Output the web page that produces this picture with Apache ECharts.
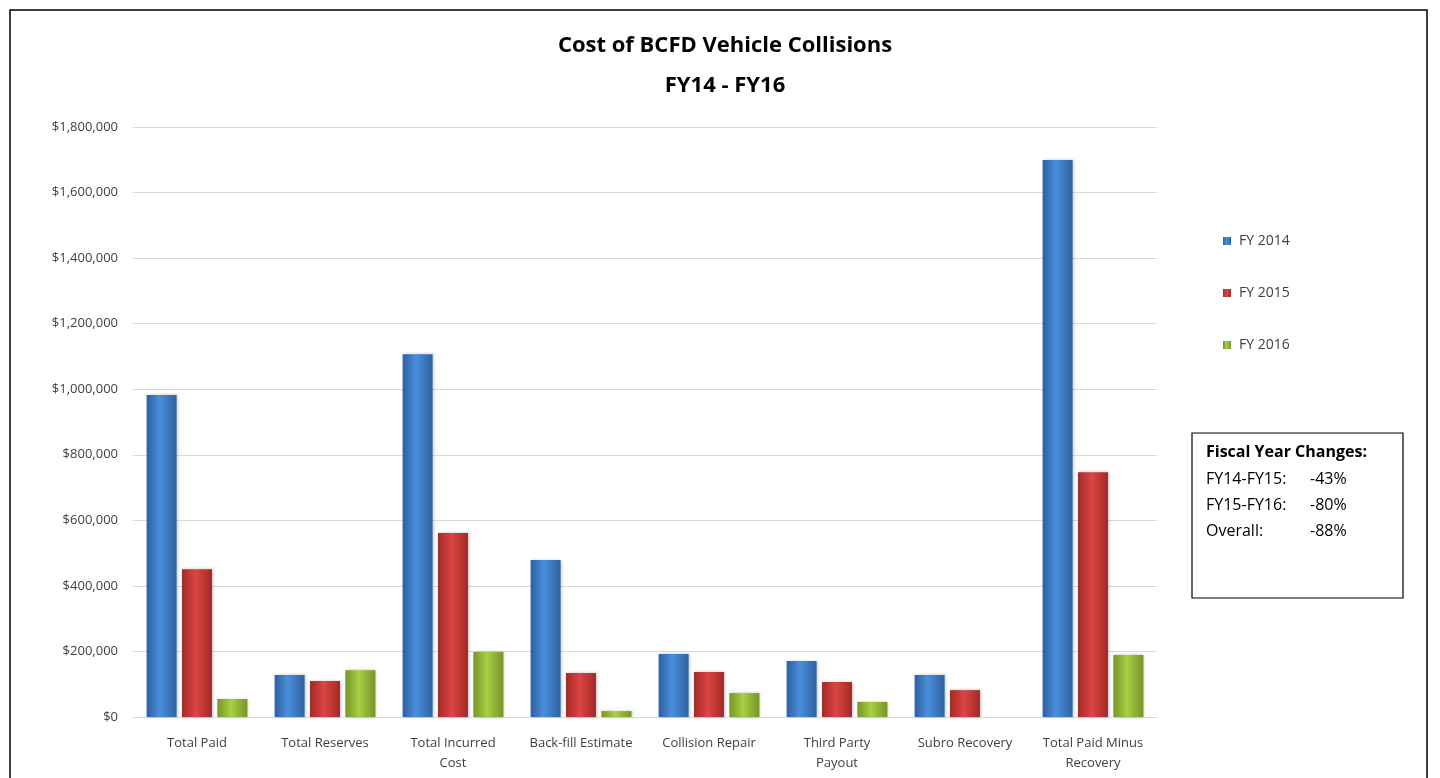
<!DOCTYPE html>
<html>
<head>
<meta charset="utf-8">
<script src="https://cdn.jsdelivr.net/npm/echarts@6/dist/echarts.min.js"></script>
<style>
  html, body { margin: 0; padding: 0; background: #fff; }
  #bar { width: 1440px; height: 778px; }
</style>
</head>
<body>
<div id="bar"></div>
<script>
var categories = ['Total Paid', 'Total Reserves', 'Total Incurred\nCost', 'Back-fill Estimate',
    'Collision Repair', 'Third Party\nPayout', 'Subro Recovery', 'Total Paid Minus\nRecovery'];
var fy2014 = [982000, 128000, 1107000, 479000, 192000, 171000, 128000, 1699000];
var fy2015 = [451000, 110000, 561000, 134000, 137000, 107000, 82000, 747000];
var fy2016 = [55000, 143000, 198000, 18000, 73000, 46000, 0, 189000];
var yTicks = [0, 200000, 400000, 600000, 800000, 1000000, 1200000, 1400000, 1600000, 1800000];
var changeNames = ['FY14-FY15:', 'FY15-FY16:', 'Overall:'];
var changeValues = ['-43%', '-80%', '-88%'];

var font = 'Open Sans';

// 柱子的渐变色（中间亮，两边暗）
function barColor(edge, mid) {
    return new echarts.graphic.LinearGradient(0, 0, 1, 0, [
        {offset: 0, color: edge},
        {offset: 0.45, color: mid},
        {offset: 1, color: edge}
    ]);
}

function money(v) {
    return '$' + v.toString().replace(/\B(?=(\d{3})+(?!\d))/g, ',');
}

var myChart = echarts.init(document.getElementById('bar'));
myChart.setOption({
    animation: false,
    title: [{
        text: 'Cost of BCFD Vehicle Collisions',
        left: 720,
        top: 30,
        textAlign: 'center',
        textStyle: {fontFamily: font, fontSize: 22, fontWeight: 'bold', color: '#000'}
    }, {
        text: 'FY14 - FY16',
        left: 720,
        top: 70,
        textAlign: 'center',
        textStyle: {fontFamily: font, fontSize: 22, fontWeight: 'bold', color: '#000'}
    }],
    legend: {
        orient: 'vertical',
        left: 1218,
        top: 228,
        itemWidth: 8,
        itemHeight: 8,
        itemGap: 36,
        icon: 'rect',
        data: ['FY 2014', 'FY 2015', 'FY 2016'],
        textStyle: {fontFamily: font, fontSize: 14, color: '#404040', lineHeight: 16, padding: [0, 0, 0, 3]}
    },
    grid: {left: 133, right: 283, top: 127, bottom: 61},
    xAxis: {
        type: 'category',
        data: categories,
        axisTick: {show: false},
        axisLine: {lineStyle: {color: '#d9d9d9', width: 1}},
        axisLabel: {fontFamily: font, fontSize: 13, color: '#404040', margin: 16, lineHeight: 20, interval: 0}
    },
    yAxis: {
        type: 'value',
        min: yTicks[0],
        max: yTicks[yTicks.length - 1],
        interval: yTicks[1] - yTicks[0],
        axisLine: {show: false},
        axisTick: {show: false},
        splitLine: {lineStyle: {color: '#d9d9d9', width: 1}},
        axisLabel: {fontFamily: font, fontSize: 13, color: '#404040', margin: 15, formatter: money}
    },
    series: [{
        name: 'FY 2014',
        type: 'bar',
        data: fy2014,
        barWidth: 30,
        barGap: '18%',
        itemStyle: {color: barColor('#2d61a3', '#4b8fd9'), shadowColor: 'rgba(0,0,0,0.25)', shadowBlur: 3, shadowOffsetX: 1}
    }, {
        name: 'FY 2015',
        type: 'bar',
        data: fy2015,
        barWidth: 30,
        barGap: '18%',
        itemStyle: {color: barColor('#a12a28', '#db4542'), shadowColor: 'rgba(0,0,0,0.25)', shadowBlur: 3, shadowOffsetX: 1}
    }, {
        name: 'FY 2016',
        type: 'bar',
        data: fy2016,
        barWidth: 30,
        barGap: '18%',
        itemStyle: {color: barColor('#76962a', '#a8cf45'), shadowColor: 'rgba(0,0,0,0.25)', shadowBlur: 3, shadowOffsetX: 1}
    }],
    graphic: [{
        type: 'rect',
        silent: true,
        shape: {x: 10, y: 10, width: 1417, height: 800},
        style: {fill: 'none', stroke: '#000', lineWidth: 1.5}
    }, {
        type: 'rect',
        silent: true,
        shape: {x: 1192, y: 433, width: 211, height: 165},
        style: {fill: '#fff', stroke: '#000', lineWidth: 1.2}
    }, {
        type: 'text',
        left: 1206,
        top: 444,
        style: {text: 'Fiscal Year Changes:', fontFamily: font, fontSize: 16, fontWeight: 'bold', fill: '#000'}
    }, {
        type: 'text',
        left: 1206,
        top: 466,
        style: {text: changeNames.join('\n'), fontFamily: font, fontSize: 16, lineHeight: 26, fill: '#000'}
    }, {
        type: 'text',
        left: 1310,
        top: 466,
        style: {text: changeValues.join('\n'), fontFamily: font, fontSize: 16, lineHeight: 26, fill: '#000'}
    }]
});
</script>
</body>
</html>
